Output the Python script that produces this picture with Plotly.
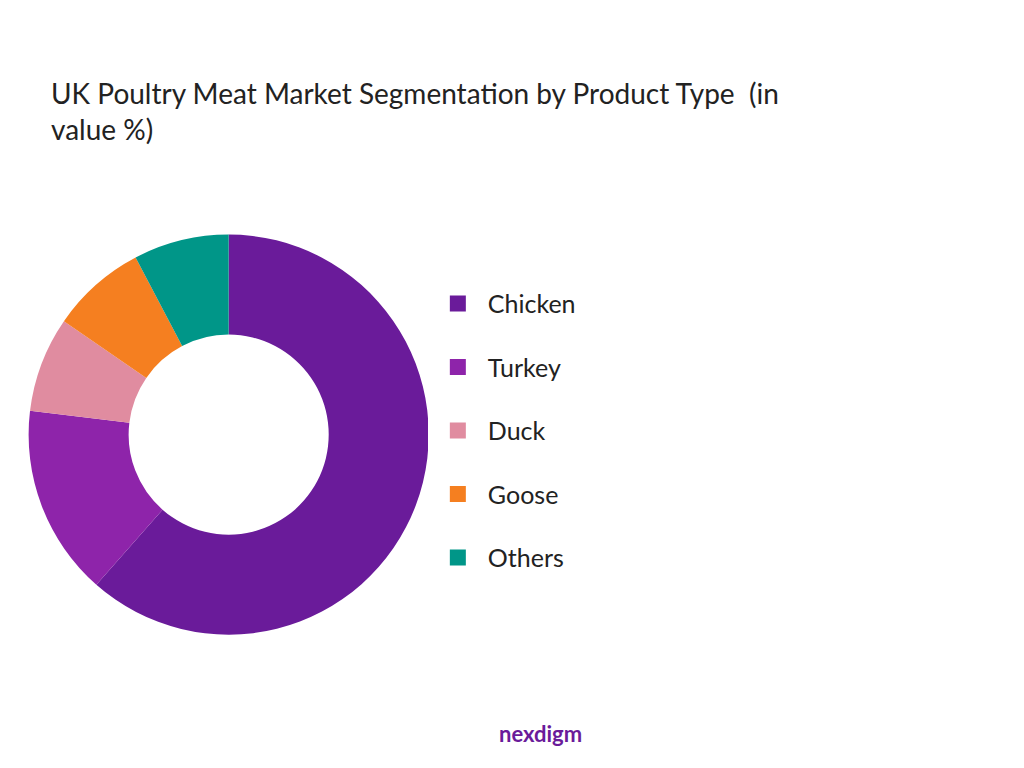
import plotly.graph_objects as go

labels = ["Chicken", "Turkey", "Duck", "Goose", "Others"]
values = [61.5, 15.4, 7.7, 7.7, 7.7]
colors = ["#6A1B9A", "#8E24AA", "#E08CA0", "#F57F20", "#009688"]

fig = go.Figure()
fig.add_trace(go.Pie(
    labels=labels, values=values, hole=0.5, sort=False, direction="clockwise",
    rotation=0, textinfo="none", hoverinfo="label+percent",
    marker=dict(colors=colors), showlegend=False,
    domain=dict(x=[0.02, 0.411], y=[0.184, 0.705]),
))

# legend entries (one group each so the gap can be widened)
for lab, col in zip(labels, colors):
    fig.add_trace(go.Scatter(
        x=[None], y=[None], mode="markers", name=lab, legendgroup=lab,
        marker=dict(symbol="square", size=28, color=col),
    ))

fig.update_layout(
    width=1024, height=768,
    paper_bgcolor="white", plot_bgcolor="white",
    margin=dict(l=0, r=0, t=0, b=0),
    xaxis=dict(visible=False), yaxis=dict(visible=False),
    title=dict(text="UK Poultry Meat Market Segmentation by Product Type  (in<br>value %)",
               x=0.042, xanchor="left", y=0.875, yanchor="top",
               font=dict(family="Lato", size=28, color="#222")),
    legend=dict(x=0.41, y=0.645, xanchor="left", yanchor="top",
                font=dict(family="Lato", size=25, color="#222"),
                itemwidth=50, tracegroupgap=28),
    annotations=[dict(text="<b>nexdigm</b>", x=0.52, y=0.035, xref="paper", yref="paper",
                      showarrow=False, font=dict(family="Lato", size=22, color="#6A1B9A"))],
)

fig.write_html("out.html")
